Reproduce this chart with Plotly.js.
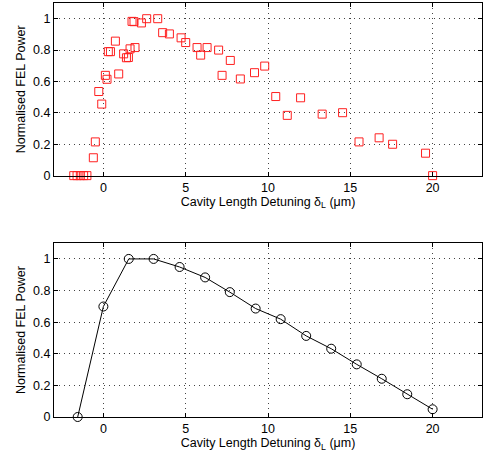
<!DOCTYPE html>
<html><head><meta charset="utf-8">
<script src="https://cdn.plot.ly/plotly-3.0.1.min.js"></script>
<style>html,body{margin:0;padding:0;background:#fff}#chart{width:483px;height:456px}</style>
</head><body><div id="chart"></div>
<script>
// Top panel: measured data
var measX = [-1.8,-1.6,-1.4,-1.2,-1.0,-0.61,-0.49,-0.10,-0.28,0.12,0.22,0.30,0.43,0.73,0.93,1.23,1.40,1.52,1.62,1.74,1.86,1.92,2.31,2.63,3.30,3.60,4.01,4.72,5.00,5.69,5.91,6.30,7.00,7.21,7.71,8.32,9.18,9.80,10.47,11.17,11.98,13.29,14.53,15.53,16.75,17.57,19.57,20.0];
var measY = [0,0,0,0,0,0.114,0.215,0.456,0.536,0.639,0.614,0.79,0.79,0.857,0.648,0.776,0.751,0.753,0.808,0.983,0.981,0.816,0.973,1.0,1.0,0.911,0.903,0.878,0.848,0.816,0.768,0.816,0.80,0.639,0.734,0.616,0.656,0.698,0.504,0.384,0.496,0.392,0.401,0.215,0.241,0.20,0.143,0.0];
// Bottom panel: simulation
var simX = [-1.56,0,1.54,3.05,4.63,6.18,7.68,9.25,10.77,12.32,13.84,15.39,16.91,18.46,20.0];
var simY = [0,0.699,1.0,1.0,0.949,0.883,0.79,0.686,0.619,0.513,0.432,0.333,0.242,0.144,0.049];

var xTicks = [0,5,10,15,20];
var yTicks = [0,0.2,0.4,0.6,0.8,1];
var yTickText = ['0','0.2','0.4','0.6','0.8','1'];
var xTitle = 'Cavity Length Detuning δ<sub>L</sub> (μm)';
var yTitle = 'Normalised FEL Power';

var fontFam = 'Liberation Sans, Arial, sans-serif';
function xa(anchor){
  return {anchor:anchor, range:[-3,23], tickvals:xTicks, ticktext:xTicks.map(String),
    ticks:'inside', ticklen:4, tickcolor:'#000', showline:true, linecolor:'#000', linewidth:1, mirror:'ticks',
    showgrid:true, gridcolor:'#444', griddash:'1px,4px', gridwidth:1, zeroline:false,
    tickfont:{size:12.5, color:'#000'}, title:{text:xTitle, font:{size:12.5,color:'#000'}, standoff:1}};
}
function ya(anchor, dom){
  return {anchor:anchor, domain:dom, range:[0,1.1], tickvals:yTicks, ticktext:yTickText,
    ticks:'inside', ticklen:4, tickcolor:'#000', showline:true, linecolor:'#000', linewidth:1, mirror:'ticks',
    showgrid:true, gridcolor:'#444', griddash:'1px,4px', gridwidth:1, zeroline:false,
    tickfont:{size:12.5, color:'#000'}, title:{text:yTitle, font:{size:12.5,color:'#000'}, standoff:4}};
}
var data = [
  {x:measX, y:measY, xaxis:'x', yaxis:'y', type:'scatter', mode:'markers', cliponaxis:false,
   marker:{symbol:'square-open', size:8, color:'#ff2020', line:{width:1, color:'#ff2020'}}},
  {x:simX, y:simY, xaxis:'x2', yaxis:'y2', type:'scatter', mode:'lines+markers', cliponaxis:false,
   line:{color:'#000', width:1}, marker:{symbol:'circle-open', size:9, color:'#000', line:{width:1,color:'#000'}}}
];
var layout = {
  width:483, height:456, showlegend:false, paper_bgcolor:'#fff', plot_bgcolor:'#fff',
  margin:{l:54, r:1, t:3, b:39},
  font:{family:fontFam, color:'#000'},
  xaxis:xa('y'), yaxis:ya('x',[0.583,1]),
  xaxis2:xa('y2'), yaxis2:ya('x2',[0,0.42])
};
Plotly.newPlot('chart', data, layout, {staticPlot:true});
</script></body></html>
